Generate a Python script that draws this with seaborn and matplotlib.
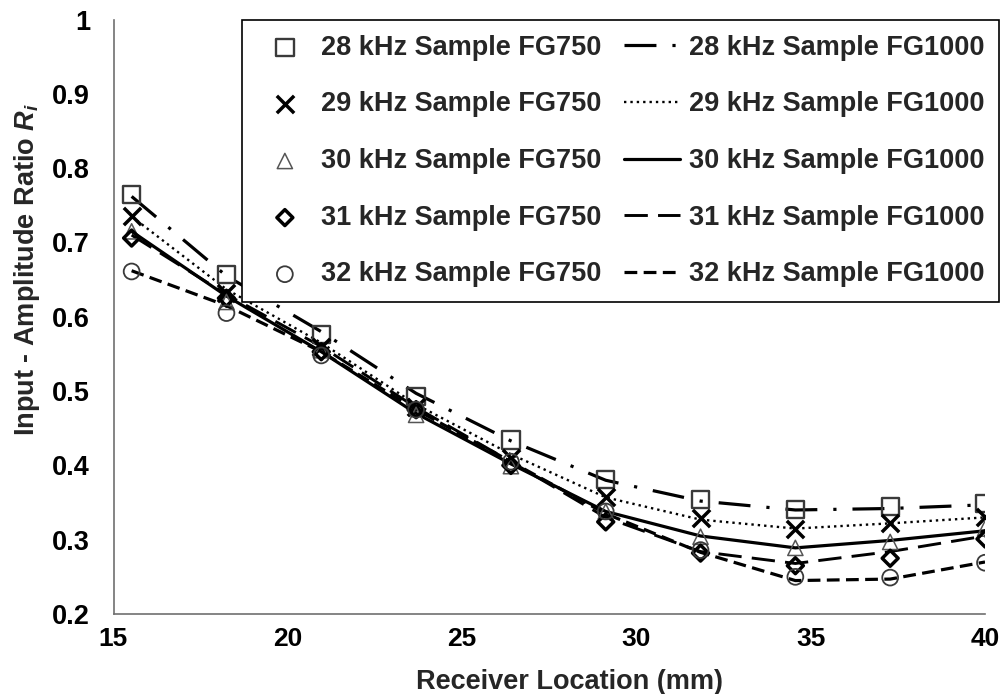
import matplotlib
matplotlib.use("Agg")
import matplotlib.pyplot as plt
import seaborn as sns
import pandas as pd

# Receiver positions (mm)
x_mm = [15.52, 18.24, 20.96, 23.68, 26.40, 29.12, 31.84, 34.56, 37.28, 40.00]

# Sample FG750 (measured points)
fg750_28 = [0.765, 0.657, 0.576, 0.493, 0.434, 0.381, 0.354, 0.341, 0.345, 0.349]
fg750_29 = [0.735, 0.632, 0.560, 0.478, 0.410, 0.358, 0.329, 0.314, 0.322, 0.331]
fg750_30 = [0.715, 0.620, 0.555, 0.468, 0.399, 0.338, 0.304, 0.289, 0.297, 0.315]
fg750_31 = [0.706, 0.625, 0.553, 0.475, 0.400, 0.324, 0.282, 0.265, 0.275, 0.301]
fg750_32 = [0.661, 0.605, 0.548, 0.475, 0.405, 0.338, 0.286, 0.250, 0.249, 0.269]

# Sample FG1000 (lines)
fg1000_28 = [0.762, 0.655, 0.580, 0.497, 0.433, 0.380, 0.352, 0.340, 0.342, 0.347]
fg1000_29 = [0.735, 0.637, 0.565, 0.482, 0.415, 0.357, 0.327, 0.315, 0.322, 0.330]
fg1000_30 = [0.715, 0.628, 0.553, 0.470, 0.402, 0.338, 0.305, 0.289, 0.299, 0.312]
fg1000_31 = [0.710, 0.630, 0.560, 0.478, 0.405, 0.330, 0.284, 0.268, 0.284, 0.305]
fg1000_32 = [0.662, 0.615, 0.553, 0.475, 0.405, 0.335, 0.283, 0.245, 0.247, 0.270]

freqs = ["28", "29", "30", "31", "32"]
fg750 = [fg750_28, fg750_29, fg750_30, fg750_31, fg750_32]
fg1000 = [fg1000_28, fg1000_29, fg1000_30, fg1000_31, fg1000_32]

x_ticks = [15, 20, 25, 30, 35, 40]
y_ticks = [0.2, 0.3, 0.4, 0.5, 0.6, 0.7, 0.8, 0.9, 1.0]
y_ticklabels = ["0.2", "0.3", "0.4", "0.5", "0.6", "0.7", "0.8", "0.9", "1"]

FS = 19.5

sns.set_theme(style="white")
plt.rcParams["font.family"] = ["Liberation Sans", "DejaVu Sans"]
plt.rcParams["font.weight"] = "bold"
plt.rcParams["mathtext.fontset"] = "custom"
plt.rcParams["mathtext.it"] = "Liberation Sans:italic:bold"
plt.rcParams["mathtext.rm"] = "Liberation Sans:bold"

fig = plt.figure(figsize=(10, 6.94), dpi=100)
ax = fig.add_axes([0.1135, 1 - 614 / 694, 0.8715, (614 - 19.6) / 694])

marker_styles = [
    dict(marker="s", s=155, facecolor="none", edgecolor="#3a3a3a", linewidth=1.7),
    dict(marker="x", s=155, color="black", linewidth=2.5),
    dict(marker="^", s=120, facecolor="none", edgecolor="#555555", linewidth=1.1),
    dict(marker="D", s=66, facecolor="none", edgecolor="black", linewidth=2.5),
    dict(marker="o", s=130, facecolor="none", edgecolor="#3a3a3a", linewidth=1.3),
]
line_styles = [
    dict(linestyle=(0, (10, 5, 1, 5)), linewidth=2.3),
    dict(linestyle=(0, (1, 1.7)), linewidth=1.7),
    dict(linestyle="-", linewidth=2.3),
    dict(linestyle=(0, (8, 3.5)), linewidth=2.1),
    dict(linestyle=(0, (4, 2)), linewidth=2.3),
]

handles_m, handles_l = [], []
for f, vals, st in zip(freqs, fg750, marker_styles):
    df = pd.DataFrame({"x": x_mm, "y": vals})
    sns.scatterplot(data=df, x="x", y="y", ax=ax, legend=False, zorder=3, **st)
    handles_m.append((ax.collections[-1], f"{f} kHz Sample FG750"))

for f, vals, st in zip(freqs, fg1000, line_styles):
    df = pd.DataFrame({"x": x_mm, "y": vals})
    sns.lineplot(data=df, x="x", y="y", ax=ax, color="black", legend=False,
                 zorder=2, **st)
    handles_l.append((ax.lines[-1], f"{f} kHz Sample FG1000"))

ax.set_xlim(15, 40)
ax.set_ylim(0.2, 1.0)
ax.set_xticks(x_ticks)
ax.set_yticks(y_ticks)
ax.set_yticklabels(y_ticklabels)

for side in ["top", "right"]:
    ax.spines[side].set_visible(False)
for side in ["left", "bottom"]:
    ax.spines[side].set_color("#707070")
    ax.spines[side].set_linewidth(1.2)
ax.tick_params(axis="both", direction="inout", length=12, width=1.1,
               color="#707070", labelsize=FS, labelcolor="black")
ax.tick_params(axis="x", pad=3, labelsize=19)
ax.tick_params(axis="y", pad=11)

ax.set_xlabel("Receiver Location (mm)", fontsize=FS, fontweight="bold")
ax.set_ylabel(r"Input - Amplitude Ratio $\mathit{R_i}$", fontsize=FS,
              fontweight="bold")
ax.xaxis.set_label_coords(0.523, -0.093)
ax.yaxis.set_label_coords(-0.082, 0.58)

hs = [h for h, _ in handles_m] + [h for h, _ in handles_l]
ls = [l for _, l in handles_m] + [l for _, l in handles_l]
leg = fig.legend(hs, ls, ncol=2, loc="upper right",
                 bbox_to_anchor=(0.999, 1 - 20 / 694), borderaxespad=0,
                 fontsize=FS, frameon=True, fancybox=False, framealpha=1,
                 edgecolor="black", handlelength=2.07, handletextpad=0.3,
                 columnspacing=0.85, labelspacing=1.13, borderpad=0.55,
                 scatterpoints=1)
leg.get_frame().set_linewidth(1.2)
for t in leg.get_texts():
    t.set_fontweight("bold")

fig.savefig("out.png", dpi=100)
